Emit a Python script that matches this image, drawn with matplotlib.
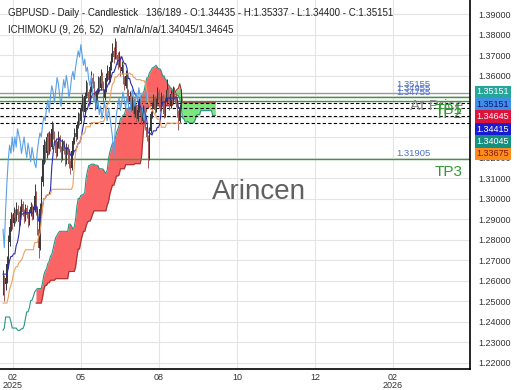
import numpy as np
import pandas as pd
import matplotlib
matplotlib.use("Agg")
import matplotlib.pyplot as plt
from matplotlib.transforms import blended_transform_factory

plt.rcParams["font.family"] = ["Liberation Sans", "DejaVu Sans"]

# bars before the first drawn candle, they only feed the ichimoku lines
pre_high = [1.2390, 1.2410, 1.2518, 1.2480, 1.2455, 1.2430, 1.2400, 1.2350, 1.2380,
            1.2420, 1.2445, 1.2470, 1.2440, 1.2480, 1.2505, 1.2470, 1.2520, 1.2560,
            1.2610, 1.2590, 1.2650, 1.2700, 1.2680, 1.2735, 1.2762, 1.2700]
pre_low = [1.2326, 1.2350, 1.2420, 1.2400, 1.2370, 1.2330, 1.2280, 1.2218, 1.2260,
           1.2310, 1.2360, 1.2380, 1.2350, 1.2390, 1.2420, 1.2400, 1.2430, 1.2470,
           1.2520, 1.2500, 1.2560, 1.2600, 1.2590, 1.2640, 1.2650, 1.2600]

# daily candles
opens = [1.2580, 1.2600, 1.2585, 1.2610, 1.2680, 1.2790, 1.2860, 1.2900, 1.2880, 1.2930,
         1.2905, 1.2950, 1.2920, 1.2885, 1.2940, 1.2975, 1.2935, 1.2900, 1.2955, 1.2920,
         1.2880, 1.2930, 1.2960, 1.2910, 1.2945, 1.3010, 1.2950, 1.2850, 1.2760, 1.2950,
         1.3080, 1.3190, 1.3260, 1.3220, 1.3300, 1.3230, 1.3300, 1.3250, 1.3340, 1.3310,
         1.3280, 1.3220, 1.3260, 1.3300, 1.3240, 1.3200, 1.3270, 1.3230, 1.3180, 1.3250,
         1.3210, 1.3170, 1.3150, 1.3230, 1.3280, 1.3320, 1.3300, 1.3360, 1.3400, 1.3380,
         1.3440, 1.3480, 1.3420, 1.3500, 1.3550, 1.3520, 1.3470, 1.3530, 1.3590, 1.3560,
         1.3500, 1.3450, 1.3520, 1.3580, 1.3540, 1.3600, 1.3560, 1.3490, 1.3530, 1.3590,
         1.3620, 1.3580, 1.3640, 1.3680, 1.3720, 1.3690, 1.3750, 1.3700, 1.3650, 1.3680,
         1.3620, 1.3640, 1.3580, 1.3550, 1.3600, 1.3520, 1.3470, 1.3500, 1.3440, 1.3480,
         1.3410, 1.3450, 1.3390, 1.3430, 1.3470, 1.3420, 1.3380, 1.3440, 1.3400, 1.3350,
         1.3300, 1.3200, 1.3330, 1.3410, 1.3450, 1.3490, 1.3430, 1.3470, 1.3520, 1.3480,
         1.3440, 1.3500, 1.3460, 1.3410, 1.3470, 1.3530, 1.3490, 1.3450, 1.3510, 1.3480,
         1.3540, 1.3500, 1.3460, 1.3420, 1.3380, 1.34435]
highs = [1.2650, 1.2625, 1.2660, 1.2720, 1.2820, 1.2895, 1.2935, 1.2925, 1.2960, 1.2950,
         1.2985, 1.2970, 1.2940, 1.2965, 1.3000, 1.2990, 1.2950, 1.2975, 1.2970, 1.2935,
         1.2950, 1.2985, 1.2975, 1.2965, 1.3070, 1.3035, 1.2965, 1.2870, 1.2980, 1.3110,
         1.3210, 1.3290, 1.3280, 1.3320, 1.3325, 1.3330, 1.3320, 1.3380, 1.3370, 1.3330,
         1.3295, 1.3280, 1.3330, 1.3310, 1.3255, 1.3290, 1.3285, 1.3245, 1.3270, 1.3265,
         1.3225, 1.3190, 1.3250, 1.3300, 1.3345, 1.3335, 1.3380, 1.3420, 1.3415, 1.3460,
         1.3510, 1.3495, 1.3520, 1.3580, 1.3570, 1.3535, 1.3550, 1.3620, 1.3610, 1.3575,
         1.3515, 1.3540, 1.3600, 1.3595, 1.3630, 1.3615, 1.3575, 1.3550, 1.3610, 1.3650,
         1.3635, 1.3670, 1.3710, 1.3760, 1.3740, 1.3785, 1.3770, 1.3715, 1.3720, 1.3695,
         1.3670, 1.3655, 1.3600, 1.3625, 1.3610, 1.3535, 1.3525, 1.3510, 1.3500, 1.3490,
         1.3470, 1.3460, 1.3450, 1.3490, 1.3480, 1.3435, 1.3455, 1.3450, 1.3410, 1.3360,
         1.3310, 1.3350, 1.3425, 1.3470, 1.3510, 1.3500, 1.3490, 1.3545, 1.3535, 1.3495,
         1.3520, 1.3510, 1.3470, 1.3490, 1.3585, 1.3545, 1.3500, 1.3530, 1.3525, 1.3550,
         1.3545, 1.3515, 1.3475, 1.3430, 1.3460, 1.35337]
lows = [1.2530, 1.2500, 1.2555, 1.2590, 1.2660, 1.2770, 1.2840, 1.2850, 1.2865, 1.2880,
        1.2890, 1.2900, 1.2860, 1.2870, 1.2925, 1.2915, 1.2880, 1.2890, 1.2905, 1.2860,
        1.2870, 1.2915, 1.2895, 1.2900, 1.2935, 1.2920, 1.2820, 1.2710, 1.2750, 1.2930,
        1.3060, 1.3170, 1.3180, 1.3200, 1.3210, 1.3215, 1.3230, 1.3240, 1.3290, 1.3260,
        1.3200, 1.3205, 1.3245, 1.3225, 1.3180, 1.3190, 1.3215, 1.3160, 1.3170, 1.3195,
        1.3150, 1.3120, 1.3140, 1.3215, 1.3265, 1.3280, 1.3290, 1.3345, 1.3360, 1.3370,
        1.3425, 1.3400, 1.3410, 1.3490, 1.3500, 1.3450, 1.3460, 1.3520, 1.3540, 1.3480,
        1.3430, 1.3440, 1.3510, 1.3520, 1.3530, 1.3540, 1.3470, 1.3480, 1.3520, 1.3575,
        1.3560, 1.3570, 1.3625, 1.3665, 1.3660, 1.3680, 1.3680, 1.3630, 1.3640, 1.3600,
        1.3605, 1.3560, 1.3530, 1.3540, 1.3500, 1.3450, 1.3460, 1.3425, 1.3430, 1.3395,
        1.3400, 1.3375, 1.3380, 1.3420, 1.3405, 1.3365, 1.3370, 1.3385, 1.3335, 1.3280,
        1.3150, 1.3190, 1.3320, 1.3395, 1.3440, 1.3415, 1.3420, 1.3460, 1.3465, 1.3425,
        1.3430, 1.3445, 1.3395, 1.3400, 1.3460, 1.3475, 1.3430, 1.3440, 1.3465, 1.3470,
        1.3485, 1.3445, 1.3400, 1.3335, 1.3370, 1.34400]
closes = [1.2600, 1.2585, 1.2610, 1.2680, 1.2790, 1.2860, 1.2900, 1.2880, 1.2930, 1.2905,
          1.2950, 1.2920, 1.2885, 1.2940, 1.2975, 1.2935, 1.2900, 1.2955, 1.2920, 1.2880,
          1.2930, 1.2960, 1.2910, 1.2945, 1.3010, 1.2950, 1.2850, 1.2760, 1.2950, 1.3080,
          1.3190, 1.3260, 1.3220, 1.3300, 1.3230, 1.3300, 1.3250, 1.3340, 1.3310, 1.3280,
          1.3220, 1.3260, 1.3300, 1.3240, 1.3200, 1.3270, 1.3230, 1.3180, 1.3250, 1.3210,
          1.3170, 1.3150, 1.3230, 1.3280, 1.3320, 1.3300, 1.3360, 1.3400, 1.3380, 1.3440,
          1.3480, 1.3420, 1.3500, 1.3550, 1.3520, 1.3470, 1.3530, 1.3590, 1.3560, 1.3500,
          1.3450, 1.3520, 1.3580, 1.3540, 1.3600, 1.3560, 1.3490, 1.3530, 1.3590, 1.3620,
          1.3580, 1.3640, 1.3680, 1.3720, 1.3690, 1.3750, 1.3700, 1.3650, 1.3680, 1.3620,
          1.3640, 1.3580, 1.3550, 1.3600, 1.3520, 1.3470, 1.3500, 1.3440, 1.3480, 1.3410,
          1.3450, 1.3390, 1.3430, 1.3470, 1.3420, 1.3380, 1.3440, 1.3400, 1.3350, 1.3300,
          1.3200, 1.3330, 1.3410, 1.3450, 1.3490, 1.3430, 1.3470, 1.3520, 1.3480, 1.3440,
          1.3500, 1.3460, 1.3410, 1.3470, 1.3530, 1.3490, 1.3450, 1.3510, 1.3480, 1.3540,
          1.3500, 1.3460, 1.3420, 1.3380, 1.3440, 1.35151]

# last values of the indicator lines (dashed lines + right hand boxes)
indicator_levels = [1.34645, 1.34415, 1.34045, 1.33675]
box_texts = ["1.35151", "1.35151", "1.34645", "1.34415", "1.34045", "1.33675"]
box_colors = ["#26a69a", "#3f8fe8", "#dc143c", "#1a1ad0", "#14907f", "#ff8c1a"]
box_text_colors = ["white", "#101070", "white", "white", "white", "#7a1a10"]

# drawn levels
level_prices = [1.35155, 1.34955, 1.34755, 1.31905]
level_names = ["At Price", "TP1", "TP2", "TP3"]

month_labels = ["02\n2025", "05", "08", "10", "12", "02\n2026"]

# ichimoku (9, 26, 52)
hi = pd.Series(pre_high + highs)
lo = pd.Series(pre_low + lows)
n_pre = len(pre_high)
tenkan = (hi.rolling(9, min_periods=1).max() + lo.rolling(9, min_periods=1).min()) / 2
kijun = (hi.rolling(26, min_periods=1).max() + lo.rolling(26, min_periods=1).min()) / 2
span_a = ((tenkan + kijun) / 2).values
span_b = ((hi.rolling(52, min_periods=26).max() + lo.rolling(52, min_periods=26).min()) / 2).values
x_span = np.arange(len(hi)) - n_pre + 26
x_bar = np.arange(len(closes))

fig = plt.figure(figsize=(5.2, 3.9), dpi=100)
ax = fig.add_axes([0, 21 / 390, 470 / 520, 369 / 390])

# cloud
valid = ~np.isnan(span_b)
ax.fill_between(x_span, span_a, span_b, where=valid & (span_a >= span_b), interpolate=True,
                color="#fa6464", lw=0, zorder=1)
ax.fill_between(x_span, span_a, span_b, where=valid & (span_a < span_b), interpolate=True,
                color="#7ce87c", lw=0, zorder=1)
ax.plot(x_span, span_a, color="#2a9585", lw=0.8, zorder=1.5)
ax.plot(x_span, span_b, color="#a83030", lw=0.8, zorder=1.5)

# levels
for p in indicator_levels:
    ax.axhline(p, color="black", lw=0.8, ls=(0, (3, 2)), zorder=2)
for p, name in zip(level_prices, level_names):
    ax.axhline(p, color="#9a9a9a" if name == "At Price" else "#3a9a3a", lw=1.0, zorder=2)

# candles
up = np.array(closes) >= np.array(opens)
col = np.where(up, "#383838", "#a05a5a")
ax.vlines(x_bar, lows, highs, colors=col, lw=0.7, zorder=3)
ax.bar(x_bar, np.array(closes) - np.array(opens), bottom=opens, width=0.7, color=col, zorder=3)

# tenkan, kijun, chikou
ax.plot(x_bar, tenkan.values[n_pre:], color="#2b2bb0", lw=0.8, zorder=4)
ax.plot(x_bar, kijun.values[n_pre:], color="#f0a060", lw=0.8, zorder=4)
ax.plot(x_bar[26:] - 26, closes[26:], color="#5aa0e6", lw=0.8, zorder=4)

ax.set_xlim(-2.27, 354.06)
ax.set_ylim(1.21683, 1.39683)

ax.set_yticks(np.arange(1.22, 1.395, 0.01))
ax.yaxis.set_major_formatter(plt.FormatStrFormatter("%.5f"))
ax.yaxis.tick_right()
ax.set_xticks([7.6, 59.1, 118.2, 177.4, 236.5, 295.6])
ax.set_xticklabels(month_labels)
ax.tick_params(axis="y", length=0, pad=6, labelsize=6.5, colors="#333333")
ax.tick_params(axis="x", length=0, pad=3, labelsize=6.5, colors="#333333")
for lab in ax.get_xticklabels():
    lab.set_linespacing(0.9)
ax.grid(True, color="#e4e4e4", lw=0.8, zorder=0)
ax.set_axisbelow(True)
for s in ["left", "top"]:
    ax.spines[s].set_visible(False)
ax.spines["right"].set_linewidth(1.2)
ax.spines["bottom"].set_linewidth(1.2)

# level annotations
tr = blended_transform_factory(ax.transAxes, ax.transData)
for p, name in zip(level_prices, level_names):
    dy = 1 if name == "TP3" else 4
    ax.annotate(f"{p:.5f}", xy=(396 / 470, p), xycoords=tr, xytext=(0, dy),
                textcoords="offset pixels", ha="left", va="bottom",
                fontsize=6.8, color="#5070c8", zorder=6)
    ax.annotate(name, xy=(463 / 470, p), xycoords=tr, xytext=(0, -6),
                textcoords="offset pixels", ha="right", va="top", fontsize=11,
                color="#8a8a8a" if name == "At Price" else "#2e9a2e", zorder=6)

# watermark
ax.text(259 / 470, (369 - 192) / 369, "Arincen", transform=ax.transAxes, ha="center",
        va="center", fontsize=20, color="#606060", zorder=6)

# header
fig.text(8 / 520, 1 - 13 / 390, "GBPUSD - Daily - Candlestick", fontsize=7, va="center", color="#222222")
fig.text(146 / 520, 1 - 13 / 390, "136/189 - O:1.34435 - H:1.35337 - L:1.34400 - C:1.35151",
         fontsize=7, va="center", color="#222222")
fig.text(8 / 520, 1 - 30 / 390, "ICHIMOKU (9, 26, 52)", fontsize=7, va="center", color="#222222")
fig.text(112 / 520, 1 - 30 / 390, "n/a/n/a/n/a/1.34045/1.34645", fontsize=7, va="center", color="#222222")

# price boxes on the right axis
for i, (t, c, tc) in enumerate(zip(box_texts, box_colors, box_text_colors)):
    yc = 92 + i * 12.4
    fig.text(493 / 520, 1 - yc / 390, t, ha="center", va="center", fontsize=6.5, color=tc,
             bbox=dict(boxstyle="square,pad=0.2", fc=c, ec="none"))

fig.savefig("out.png", dpi=100)
